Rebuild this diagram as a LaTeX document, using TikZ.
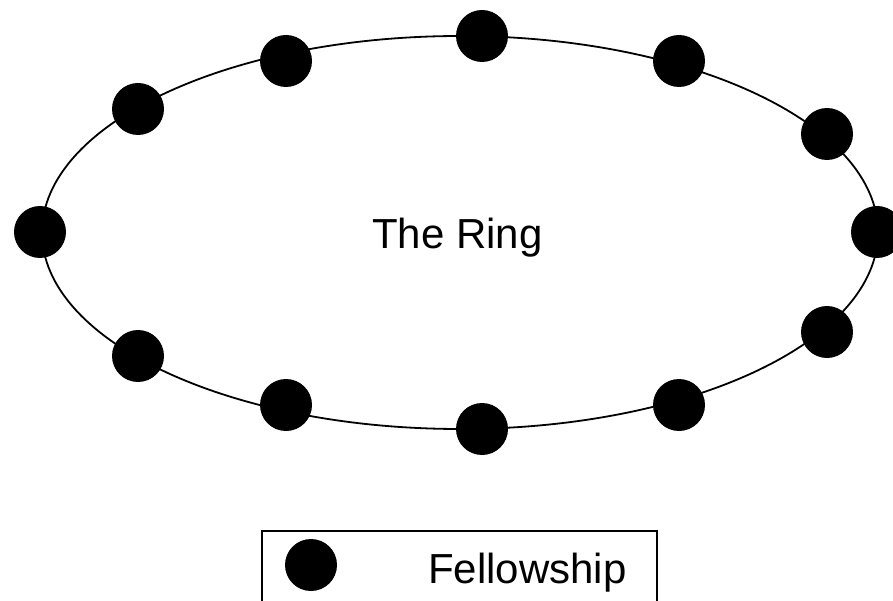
\documentclass[tikz,border=0pt]{standalone}
\usepackage{fontspec}
\setmainfont{Liberation Sans}
\usetikzlibrary{shapes.geometric}
\tikzset{
  member/.style={circle, fill=black, minimum size=52pt, inner sep=0pt},
  ringline/.style={draw=black, line width=1.8pt},
  label/.style={font=\fontsize{42}{50}\selectfont, inner sep=0pt, anchor=base}
}
\begin{document}
\begin{tikzpicture}[x=1pt,y=-1pt]
\useasboundingbox (0,0) rectangle (893,601);
\clip (0,0) rectangle (893,601);
% the ring
\node[ringline, ellipse, minimum width=836pt, minimum height=393pt, inner sep=0pt] (ring) at (460,232.5) {};
\node[label] (ringtext) at (457.5,249) {The Ring};
% fellowship members
\node[member] (d1) at (40,232) {};
\node[member] (d2) at (138,109) {};
\node[member] (d3) at (286,61) {};
\node[member] (d4) at (482,36) {};
\node[member] (d5) at (679,61) {};
\node[member] (d6) at (827,134) {};
\node[member] (d7) at (877,232) {};
\node[member] (d8) at (827,332) {};
\node[member] (d9) at (679,405) {};
\node[member] (d10) at (482,429) {};
\node[member] (d11) at (286,405) {};
\node[member] (d12) at (138,356) {};
% legend
\draw[line width=1.8pt] (262,640) -- (262,531) -- (657,531) -- (657,640);
\node[member] (ld) at (311,565) {};
\node[label] (lt) at (527.5,583) {Fellowship};
\end{tikzpicture}
\end{document}
